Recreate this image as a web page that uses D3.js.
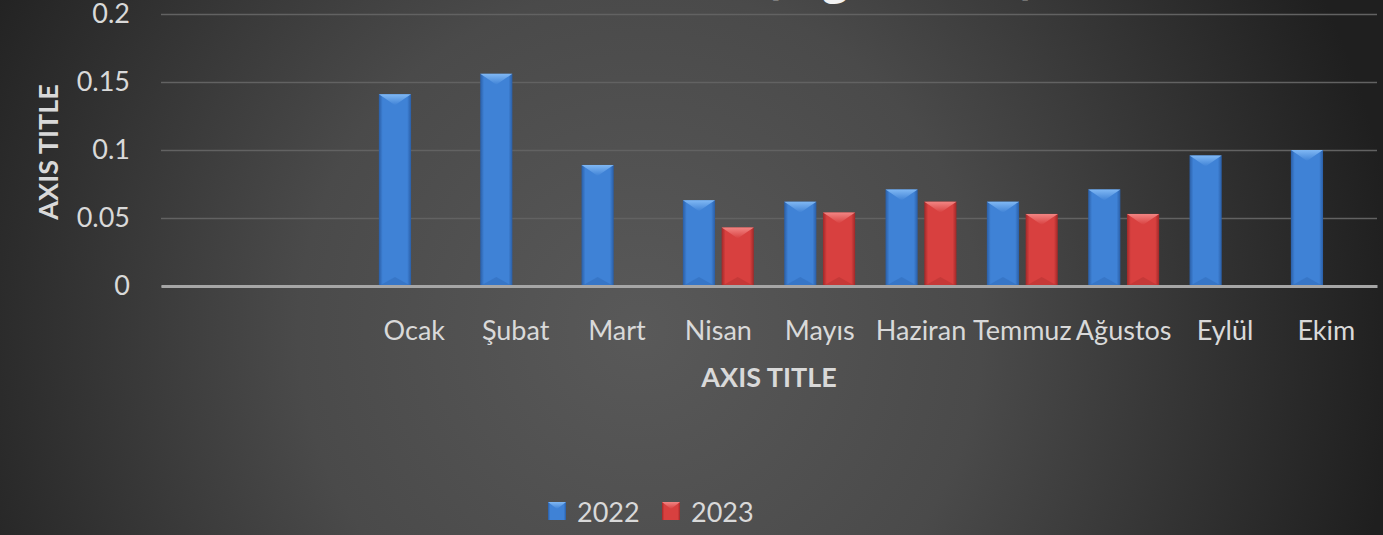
<!DOCTYPE html>
<html>
<head>
<meta charset="utf-8">
<script src="https://cdn.jsdelivr.net/npm/d3@7"></script>
<style>
  html, body { margin: 0; padding: 0; background: #2a2a2a; }
  svg { display: block; }
  text { font-family: Lato, "Open Sans", sans-serif; }
</style>
</head>
<body>
<svg id="chart" width="1383" height="535"></svg>
<script>
// chart data
const categories = ["", "", "Ocak", "Şubat", "Mart", "Nisan", "Mayıs", "Haziran", "Temmuz", "Ağustos", "Eylül", "Ekim"];
const seriesNames = ["2022", "2023"];
const values2022 = [null, null, 0.141, 0.156, 0.089, 0.063, 0.062, 0.071, 0.062, 0.071, 0.096, 0.100];
const values2023 = [null, null, null, null, null, 0.043, 0.054, 0.062, 0.053, 0.053, null, null];
const yTicks = [0, 0.05, 0.1, 0.15, 0.2];
const yTickLabels = ["0", "0.05", "0.1", "0.15", "0.2"];

const W = 1383, H = 535;
const margin = { top: 14, left: 161, right: 6, bottom: 249 };
const plotW = W - margin.left - margin.right;
const baseY = H - margin.bottom;

const palette = {
    "2022": { mid: "#3f82d6", edge: "#2a5ea6", top: "#80b8f4", bottom: "#2f68b5" },
    "2023": { mid: "#d8403f", edge: "#a02828", top: "#f28583", bottom: "#b03030" }
};

const svg = d3.select("#chart");
const defs = svg.append("defs");

// dark radial background
const bg = defs.append("radialGradient").attr("id", "bg")
    .attr("gradientUnits", "userSpaceOnUse")
    .attr("cx", 640).attr("cy", 330).attr("r", 760);
bg.append("stop").attr("offset", "0").attr("stop-color", "#595959");
bg.append("stop").attr("offset", "0.45").attr("stop-color", "#4a4a4a");
bg.append("stop").attr("offset", "1").attr("stop-color", "#1f1f1f");
svg.append("rect").attr("width", W).attr("height", H).attr("fill", "url(#bg)");

// bar gradients (side shading and top bevel)
seriesNames.forEach(function (s) {
    let c = palette[s];
    let g = defs.append("linearGradient").attr("id", "side" + s)
        .attr("x1", 0).attr("x2", 1).attr("y1", 0).attr("y2", 0);
    g.append("stop").attr("offset", "0").attr("stop-color", c.edge);
    g.append("stop").attr("offset", "0.12").attr("stop-color", c.mid);
    g.append("stop").attr("offset", "0.88").attr("stop-color", c.mid);
    g.append("stop").attr("offset", "1").attr("stop-color", c.edge);
    let t = defs.append("linearGradient").attr("id", "top" + s)
        .attr("x1", 0).attr("x2", 0).attr("y1", 0).attr("y2", 1);
    t.append("stop").attr("offset", "0").attr("stop-color", c.top);
    t.append("stop").attr("offset", "1").attr("stop-color", c.mid);
});

const x0 = d3.scaleBand().domain(d3.range(categories.length))
    .range([margin.left, margin.left + plotW]).padding(0);
const x1 = d3.scaleBand().domain(seriesNames)
    .range([x0.bandwidth() * 0.15, x0.bandwidth() * 0.85]).paddingInner(0.17);
const y = d3.scaleLinear().domain([0, 0.2]).range([baseY, margin.top]);

// gridlines + y tick labels
const yAxis = svg.append("g")
    .attr("transform", "translate(" + margin.left + ",0)")
    .call(d3.axisLeft(y).tickValues(yTicks)
        .tickFormat(function (d, i) { return yTickLabels[i]; })
        .tickSize(-plotW).tickPadding(31));
yAxis.select(".domain").remove();
yAxis.selectAll(".tick line").attr("stroke", "#626262").attr("stroke-width", 1.5);
yAxis.selectAll(".tick text").attr("fill", "#d9d9d9")
    .style("font-size", "27px").style("font-family", "Lato, 'Open Sans', sans-serif");

// bars
const rows = [];
categories.forEach(function (c, i) {
    if (values2022[i] != null) rows.push({ i: i, s: "2022", v: values2022[i] });
    if (values2023[i] != null) rows.push({ i: i, s: "2023", v: values2023[i] });
});

const bars = svg.append("g").selectAll("g.bar").data(rows).enter().append("g").attr("class", "bar");
bars.append("rect")
    .attr("x", function (d) { return x0(d.i) + x1(d.s); })
    .attr("y", function (d) { return y(d.v); })
    .attr("width", x1.bandwidth())
    .attr("height", function (d) { return baseY - y(d.v); })
    .attr("fill", function (d) { return "url(#side" + d.s + ")"; });
// top bevel
bars.append("path")
    .attr("d", function (d) {
        let xl = x0(d.i) + x1(d.s), w = x1.bandwidth(), yt = y(d.v);
        return "M" + xl + "," + yt + "H" + (xl + w) + "L" + (xl + w - 6) + "," + (yt + 4)
            + "L" + (xl + w / 2) + "," + (yt + 11) + "L" + (xl + 6) + "," + (yt + 4) + "Z";
    })
    .attr("fill", function (d) { return "url(#top" + d.s + ")"; });
// bottom bevel
bars.append("path")
    .attr("d", function (d) {
        let xl = x0(d.i) + x1(d.s), w = x1.bandwidth();
        return "M" + xl + "," + baseY + "H" + (xl + w) + "L" + (xl + w / 2) + "," + (baseY - 9) + "Z";
    })
    .attr("fill", function (d) { return palette[d.s].bottom; })
    .attr("opacity", 0.45);

// x axis
const xAxis = svg.append("g")
    .attr("transform", "translate(0," + baseY + ")")
    .call(d3.axisBottom(x0).tickSize(0).tickPadding(35)
        .tickFormat(function (i) { return categories[i]; }));
xAxis.select(".domain").attr("stroke", "#a6a6a6").attr("stroke-width", 3);
xAxis.selectAll(".tick text").attr("fill", "#d9d9d9")
    .style("font-size", "27px").style("font-family", "Lato, 'Open Sans', sans-serif");

// axis titles
svg.append("text")
    .attr("x", margin.left + plotW / 2).attr("y", 387)
    .attr("text-anchor", "middle")
    .attr("fill", "#d9d9d9").style("font-size", "27px").style("font-weight", "bold")
    .text("AXIS TITLE");
svg.append("text")
    .attr("transform", "translate(58,152) rotate(-90)")
    .attr("text-anchor", "middle")
    .attr("fill", "#d9d9d9").style("font-size", "27px").style("font-weight", "bold")
    .text("AXIS TITLE");

// chart title, cut off by the top edge
svg.append("text")
    .attr("x", 765).attr("y", -7)
    .attr("fill", "#f2f2f2").style("font-size", "44px").style("font-weight", "bold")
    .style("font-family", "'Open Sans', sans-serif")
    .text("(mg/100 mL)");

// legend
const legend = svg.append("g").selectAll("g").data(seriesNames).enter().append("g")
    .attr("transform", function (d, i) { return "translate(" + (548 + i * 114) + ",502)"; });
legend.append("rect").attr("width", 18).attr("height", 18)
    .attr("fill", function (d) { return "url(#side" + d + ")"; });
legend.append("path").attr("d", "M0,0H18L9,7Z")
    .attr("fill", function (d) { return "url(#top" + d + ")"; });
legend.append("text").attr("x", 29).attr("y", 20)
    .attr("fill", "#d9d9d9").style("font-size", "27px")
    .text(function (d) { return d; });
</script>
</body>
</html>
